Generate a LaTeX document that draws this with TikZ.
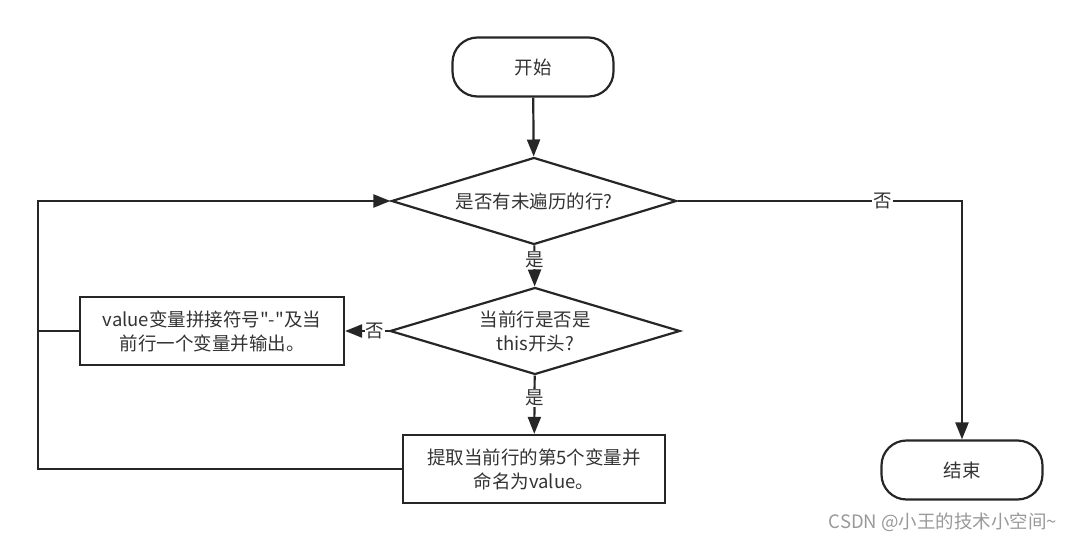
\documentclass[tikz,border=0pt]{standalone}
\usepackage{fontspec}
\setmainfont{Noto Sans CJK SC}
\usetikzlibrary{positioning}
\usetikzlibrary{shapes.geometric}
\usetikzlibrary{arrows.meta}
\definecolor{ink}{HTML}{262626}
\definecolor{txt}{HTML}{333333}
\tikzset{
	every node/.style = {font=\fontsize{18.5}{24}\selectfont, text=txt},
	terminal/.style = {draw=ink, line width=2.2pt, rounded corners=25pt, minimum width=161pt, minimum height=59pt},
	decision/.style = {draw=ink, line width=2.2pt, diamond, aspect=3.3, inner sep=0pt, align=center},
	process/.style = {draw=ink, line width=2.2pt, minimum width=262pt, minimum height=68pt, align=center},
	flow/.style = {draw=ink, line width=2.2pt, -{Triangle[length=17pt,width=13pt]}},
	link/.style = {draw=ink, line width=2.2pt},
	answer/.style = {fill=white, inner sep=1pt}
}

\begin{document}
\begin{tikzpicture}[x=1pt, y=-1pt]
		\useasboundingbox (0,0) rectangle (1080,541);
		% nodes
		\node[terminal] (start) at (533,67) {开始};
		\node[decision, minimum width=285pt, minimum height=87pt] (rows) at (534,201) {是否有未遍历的行?};
		\node[decision, minimum width=290pt, minimum height=87pt] (this) at (535,331) {当前行是否是\\this开头?};
		\node[process, minimum width=264pt] (output) at (212,331) {value变量拼接符号\textquotedbl-\textquotedbl 及当\\前行一个变量并输出。};
		\node[process] (pick) at (534,469) {提取当前行的第5个变量并\\命名为value。};
		\node[terminal] (finish) at (962,470) {结束};
		\coordinate (loop) at (38,201);
		% connectors
		\draw[flow] (start) -- (rows);
		\draw[flow] (rows) -- node[answer, pos=0.36] {是} (this);
		\draw[flow] (this) -- node[answer, pos=0.38] {是} (pick);
		\draw[flow] (this.west) -- node[answer, pos=0.32] {否} (output.east);
		\draw[flow] (pick.west) -| (loop) -- (rows.west);
		\draw[link] (output.west) -- (output.west -| loop);
		\draw[flow] (rows.east) -| node[answer, pos=0.36] {否} (finish);
		% watermark
		\node[font=\fontsize{18.5}{22}\selectfont, text=gray!80] (mark) at (943,522) {CSDN @小王的技术小空间\textasciitilde};
	\end{tikzpicture}
\end{document}
